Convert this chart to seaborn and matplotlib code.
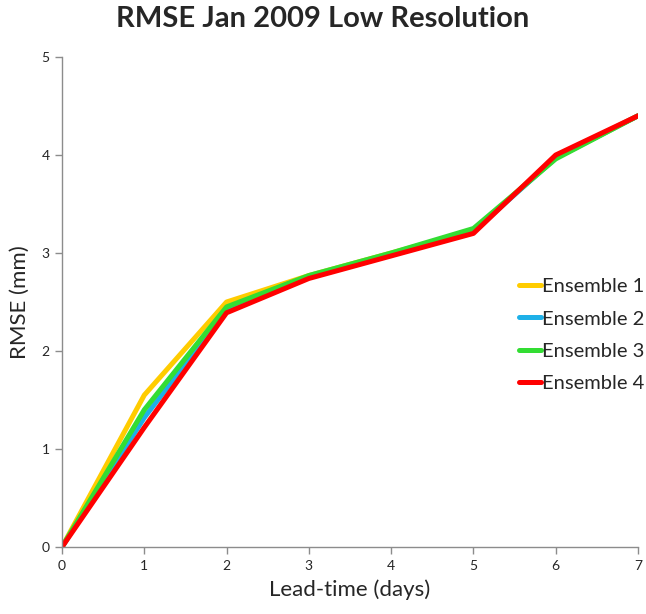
import matplotlib
matplotlib.use("Agg")
import matplotlib.pyplot as plt
import seaborn as sns
import pandas as pd

lead_days = [0, 1, 2, 3, 4, 5, 6, 7]
ensemble_1 = [0.0, 1.55, 2.50, 2.77, 3.00, 3.23, 3.97, 4.40]
ensemble_2 = [0.0, 1.32, 2.42, 2.75, 2.98, 3.22, 3.97, 4.40]
ensemble_3 = [0.0, 1.40, 2.45, 2.77, 3.00, 3.25, 3.96, 4.40]
ensemble_4 = [0.0, 1.22, 2.39, 2.74, 2.97, 3.20, 4.00, 4.40]
series_names = ["Ensemble 1", "Ensemble 2", "Ensemble 3", "Ensemble 4"]
series_colors = ["#FFCC00", "#1EB0E8", "#33DD33", "#FF0000"]

frames = []
for name, vals in zip(series_names, [ensemble_1, ensemble_2, ensemble_3, ensemble_4]):
    frames.append(pd.DataFrame({"day": lead_days, "rmse": vals, "series": name}))
df = pd.concat(frames, ignore_index=True)

sns.set_style("white")
plt.rcParams["font.family"] = ["Lato", "DejaVu Sans"]

fig = plt.figure(figsize=(6.46, 6.14), dpi=100)
ax = fig.add_axes([62 / 646, 1 - 547 / 614, 576 / 646, 490 / 614])

sns.lineplot(data=df, x="day", y="rmse", hue="series", hue_order=series_names,
             palette=series_colors, linewidth=3.6, ax=ax, legend=True)

ax.set_xlim(0, 7)
ax.set_ylim(0, 5)
ax.set_xticks(range(0, 8))
ax.set_yticks(range(0, 6))
for side in ["top", "right"]:
    ax.spines[side].set_visible(False)
for side in ["left", "bottom"]:
    ax.spines[side].set_color("#8c8c8c")
    ax.spines[side].set_linewidth(1.0)
ax.tick_params(axis="both", which="major", direction="out", length=5, width=1,
               color="#8c8c8c", labelsize=10, pad=4, left=True, bottom=True)

ax.set_xlabel("Lead-time (days)", fontsize=16, labelpad=6)
ax.set_ylabel("RMSE (mm)", fontsize=16, labelpad=8)
fig.suptitle("RMSE Jan 2009 Low Resolution", fontsize=21, fontweight="bold", y=0.99)

leg = ax.legend(loc="upper left", bbox_to_anchor=(0.78, 0.565), frameon=False,
                fontsize=14.5, handlelength=1.1, handletextpad=0.05, labelspacing=0.75,
                borderaxespad=0)
for line in leg.get_lines():
    line.set_linewidth(3.6)

fig.savefig("out.png", dpi=100, facecolor="white")
